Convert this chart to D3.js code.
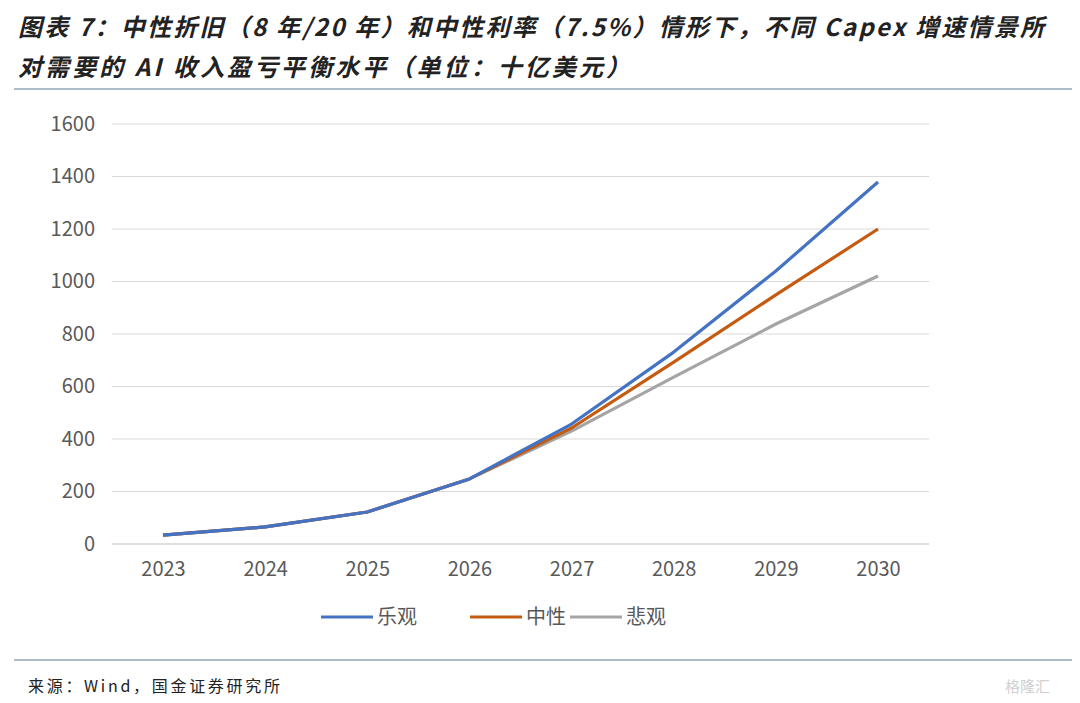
<!DOCTYPE html>
<html><head><meta charset="utf-8">
<script src="https://cdn.jsdelivr.net/npm/d3@7"></script>
<style>body{margin:0;background:#fff}</style>
</head><body>
<svg id="chart" width="1080" height="703"></svg>
<script>
const years = ['2023','2024','2025','2026','2027','2028','2029','2030'];
const optimistic = [34, 65, 122, 248, 457, 731, 1040, 1379];
const neutral = [34, 65, 122, 248, 442, 693, 949, 1200];
const pessimistic = [34, 65, 122, 248, 430, 636, 838, 1021];
const seriesNames = ['乐观', '中性', '悲观'];
const seriesColors = ['#4472c4', '#c55a11', '#a5a5a5'];
const yTicks = [0, 200, 400, 600, 800, 1000, 1200, 1400, 1600];

const svg = d3.select('#chart');
const font = '"Noto Sans CJK SC", sans-serif';

svg.append('text').attr('x', 18).attr('y', 36)
  .style('font', 'italic bold 24px ' + font).attr('fill', '#222')
  .attr('textLength', 1026).attr('lengthAdjust', 'spacing')
  .text('图表 7：中性折旧（8 年/20 年）和中性利率（7.5%）情形下，不同 Capex 增速情景所');
svg.append('text').attr('x', 18).attr('y', 76)
  .style('font', 'italic bold 24px ' + font).attr('fill', '#222')
  .attr('textLength', 612).attr('lengthAdjust', 'spacing')
  .text('对需要的 AI 收入盈亏平衡水平（单位：十亿美元）');

svg.append('line').attr('x1', 14).attr('x2', 1072).attr('y1', 89).attr('y2', 89)
  .attr('stroke', '#5b7a94').attr('stroke-width', 1.2);
svg.append('line').attr('x1', 14).attr('x2', 1072).attr('y1', 660).attr('y2', 660)
  .attr('stroke', '#5b7a94').attr('stroke-width', 1.2);

svg.append('text').attr('x', 28).attr('y', 692)
  .style('font', '16px ' + font).attr('fill', '#222')
  .attr('textLength', 252).attr('lengthAdjust', 'spacing')
  .text('来源：Wind，国金证券研究所');

const x = d3.scalePoint().domain(years).range([163, 878]);
const y = d3.scaleLinear().domain([0, 1600]).range([544, 124]);

const grid = svg.append('g');
grid.selectAll('line').data(yTicks).enter().append('line')
  .attr('x1', 112).attr('x2', 929)
  .attr('y1', d => y(d)).attr('y2', d => y(d))
  .attr('stroke', d => d === 0 ? '#bfbfbf' : '#d9d9d9').attr('stroke-width', 1);

const yAxis = d3.axisLeft(y).tickValues(yTicks).tickSize(0).tickPadding(0).tickFormat(d3.format('d'));
svg.append('g').attr('transform', 'translate(95,0)').call(yAxis)
  .call(g => g.select('.domain').remove())
  .selectAll('text').style('font', '20px ' + font).attr('fill', '#595959');

const xAxis = d3.axisBottom(x).tickSize(0).tickPadding(18);
svg.append('g').attr('transform', 'translate(0,' + 544 + ')').call(xAxis)
  .call(g => g.select('.domain').remove())
  .selectAll('text').style('font', '20px ' + font).attr('fill', '#595959');

const line = d3.line().x((d, i) => x(years[i])).y(d => y(d));
[pessimistic, neutral, optimistic].forEach((s, k) => {
  const idx = 2 - k;
  svg.append('path').datum(s).attr('d', line)
    .attr('fill', 'none').attr('stroke', seriesColors[idx]).attr('stroke-width', 3.2)
    .attr('stroke-linejoin', 'round');
});

const legend = svg.append('g');
const lx = [321, 470, 570];
seriesNames.forEach((n, i) => {
  legend.append('line').attr('x1', lx[i]).attr('x2', lx[i] + 52)
    .attr('y1', 617).attr('y2', 617).attr('stroke', seriesColors[i]).attr('stroke-width', 3.2);
  legend.append('text').attr('x', lx[i] + 56).attr('y', 624)
    .style('font', '20px ' + font).attr('fill', '#595959').text(n);
});

svg.append('text').attr('x', 1005).attr('y', 692)
  .style('font', '15px ' + font).attr('fill', '#d0d0d0').text('格隆汇');
</script>
</body></html>
